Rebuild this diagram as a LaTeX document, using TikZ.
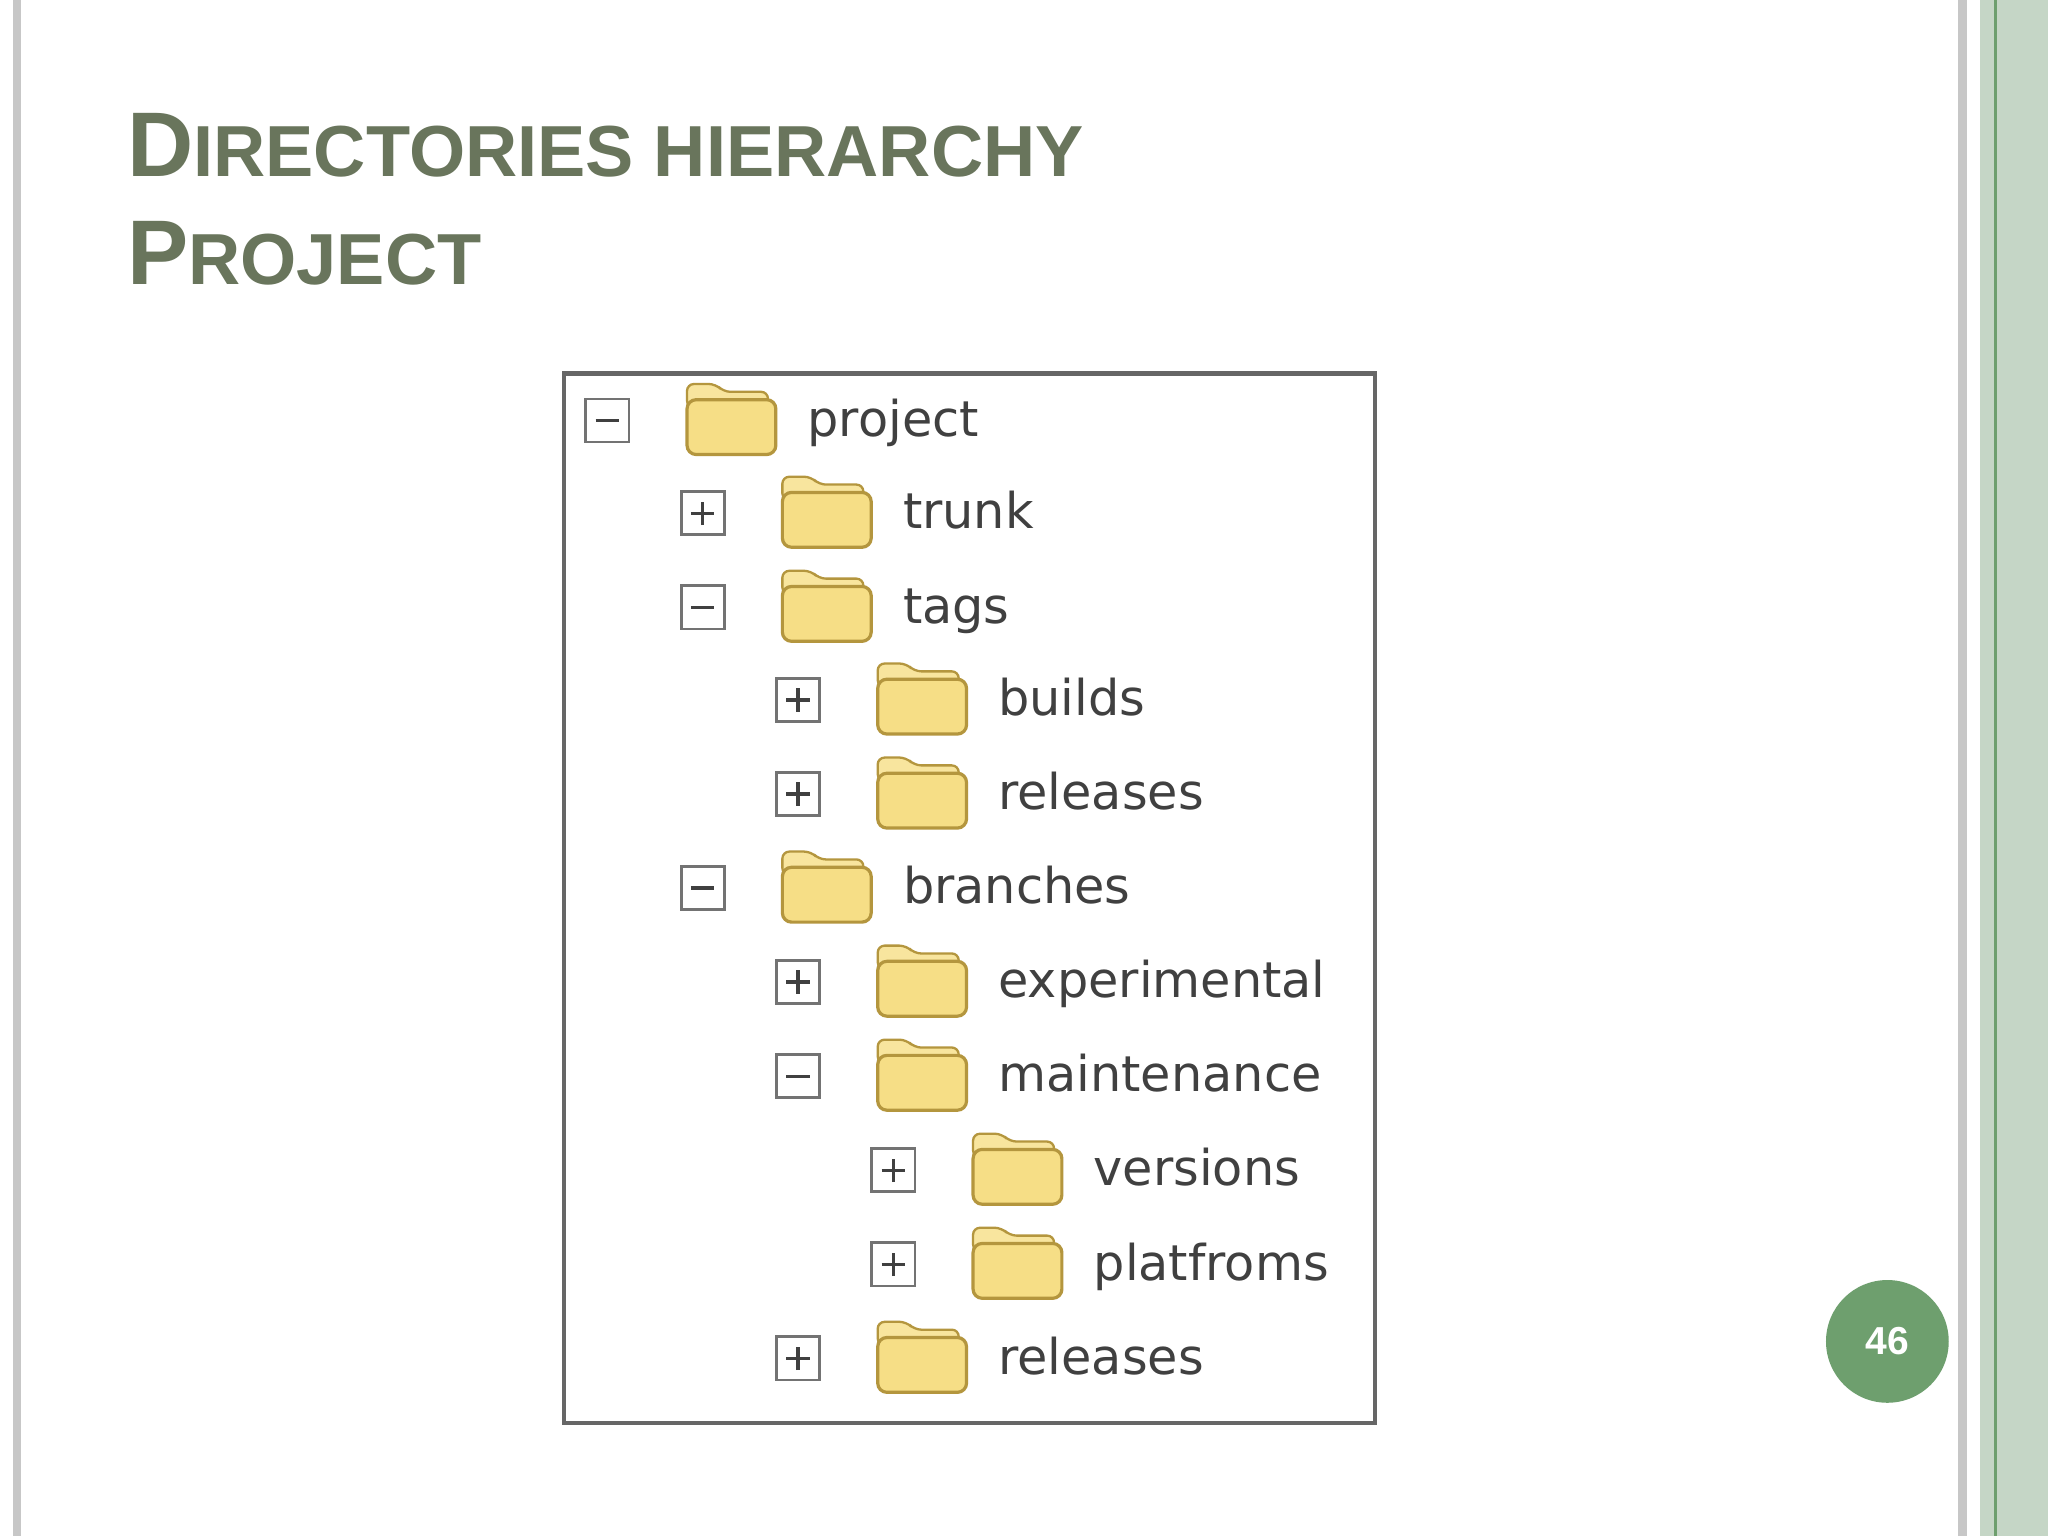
\documentclass[tikz,border=0pt]{standalone}
\usepackage{fontspec}
\setmainfont{Liberation Sans}
\newfontfamily\treefont{DejaVu Sans}
\definecolor{titlec}{HTML}{69755C}
\definecolor{sidegreen}{HTML}{C5D6C6}
\definecolor{darkgreen}{HTML}{6E9F6E}
\definecolor{folderfill}{HTML}{F6DE86}
\definecolor{folderline}{HTML}{B4963E}
\tikzset{
  x=0.02cm, y=-0.02cm,
  lbl/.style={anchor=base west, inner sep=0, text=black!75, font=\treefont\fontsize{21.5}{21.5}\selectfont},
  tog/.style={draw=black!55, line width=1.2pt, fill=white, minimum size=0.66cm, inner sep=0},
}
\newcommand{\folder}[2]{%
  \begin{scope}[shift={(#1,#2)}]
  \filldraw[fill=folderfill!80!white, draw=folderline, line width=1pt, rounded corners=3pt]
     (-34,-10) -- (-34,-28) -- (-12,-28) -- (-6,-22) -- (28,-22) -- (28,-10) -- cycle;
  \filldraw[fill=folderfill, draw=folderline, line width=1.4pt, rounded corners=4pt]
     (-34,-16) -- (34,-16) -- (34,26) -- (-34,26) -- cycle;
  \end{scope}}
\newcommand{\tog}[4]{% name x y plusflag
  \node[tog] (#1) at (#2,#3) {};
  \draw[black!75, line width=1.5pt] ([xshift=-0.18cm]#1.center) -- ([xshift=0.18cm]#1.center);
  \ifnum#4=1 \draw[black!75, line width=1.5pt] ([yshift=-0.18cm]#1.center) -- ([yshift=0.18cm]#1.center);\fi}
\begin{document}
\begin{tikzpicture}
\useasboundingbox (0,0) rectangle (1568,1176);
\fill[white] (0,0) rectangle (1568,1176);
\fill[black!22] (10,0) rectangle (16,1176);
\fill[black!22] (1499,0) rectangle (1506,1176);
\fill[sidegreen] (1516,0) rectangle (1568,1176);
\fill[darkgreen] (1527,0) rectangle (1529,1176);
\node[anchor=base west, inner sep=0, text=titlec, font=\bfseries] (t1) at (97,135)
  {\fontsize{40}{40}\selectfont D\fontsize{31.5}{31.5}\selectfont IRECTORIES HIERARCHY};
\node[anchor=base west, inner sep=0, text=titlec, font=\bfseries] (t2) at (97,218)
  {\fontsize{40}{40}\selectfont P\fontsize{31.5}{31.5}\selectfont ROJECT};
\node[draw=black!60, line width=2pt, minimum width=12.42cm, minimum height=16.08cm, anchor=north west, inner sep=0] (box) at (430,284) {};
\foreach \n/\lv/\y/\s/\t in {a/0/322/0/project, b/1/393/1/trunk, c/1/465/0/tags, d/2/536/1/builds, e/2/608/1/releases, f/1/680/0/branches, g/2/752/1/experimental, h/2/824/0/maintenance, i/3/896/1/versions, j/3/968/1/platfroms, k/2/1040/1/releases}{
  \tog{t\n}{465+73*\lv}{\y}{\s}
  \folder{560+73*\lv}{\y}
  \node[lbl] (l\n) at (618+73*\lv,\y+12) {\t};
}
\node[circle, fill=darkgreen, minimum size=1.88cm, inner sep=0, text=white, font=\bfseries\fontsize{17}{17}\selectfont] (pg) at (1445,1027) {46};
\end{tikzpicture}
\end{document}
